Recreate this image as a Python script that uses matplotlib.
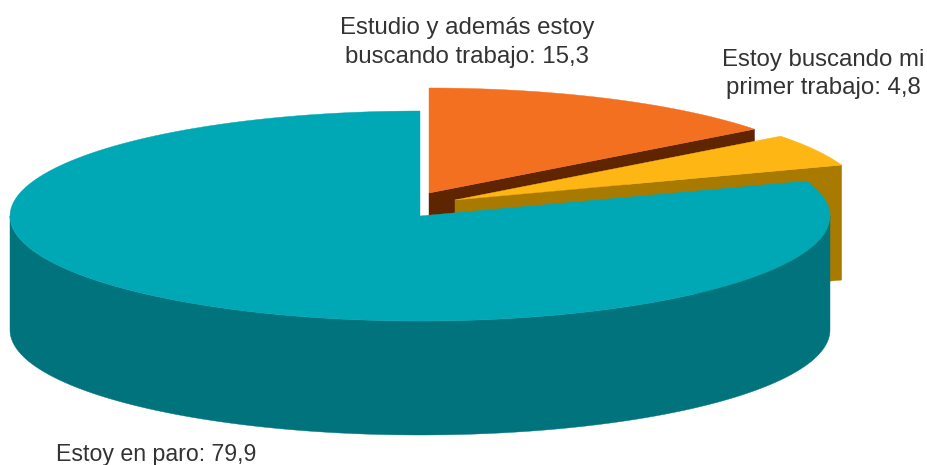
#!/bin/env python3
'''Tarta 3D: situación de búsqueda de trabajo.'''

import numpy as np
import matplotlib
matplotlib.use('Agg')
import matplotlib.pyplot as plt
from matplotlib.patches import Polygon

etiquetas = ['Estoy en paro', 'Estudio y además estoy\nbuscando trabajo', 'Estoy buscando mi\nprimer trabajo']
valores = [79.9, 15.3, 4.8]
# reparto tal como se dibuja en la figura (no es exactamente proporcional)
reparto = [80.4, 14.6, 5.0]

col_top = ['#00A8B5', '#F47021', '#FDB614']
col_side = ['#00737C', '#5F2400', '#A87B00']
centros = [(420, 216), (429, 193), (455, 200)]
prof = [114, 30, 115]
rx, ry = 410, 105

def arco(c, a0, a1, n=200):
    t = np.radians(np.linspace(a0, a1, n))
    return np.column_stack((c[0] + rx*np.cos(t), c[1] - ry*np.sin(t)))

# angulos de cada porcion, en sentido horario desde arriba
angs = {}
a = 90.0
for i in [1, 2, 0]:
    b = a - reparto[i]*3.6
    angs[i] = (a, b)
    a = b

fig = plt.figure(figsize=(9.28, 4.65), dpi=100)
ax = fig.add_axes([0, 0, 1, 1])
ax.set_xlim(0, 928)
ax.set_ylim(465, 0)
ax.axis('off')

# de atras hacia adelante: naranja, amarillo, turquesa
for i in [1, 2]:
    c = np.array(centros[i], float)
    a0, a1 = angs[i]
    d = np.array([0, prof[i]])
    borde = arco(c, a1, a1, 2)[0]
    cara = np.array([c, borde, borde + d, c + d])
    ax.add_patch(Polygon(cara, closed=True, fc=col_side[i], ec=col_side[i], lw=0.3))
    arco_t = arco(c, a0, a1)
    ax.add_patch(Polygon(np.vstack((c, arco_t)), closed=True, fc=col_top[i], ec=col_top[i], lw=0.3))

# lateral y tapa de la porcion grande
c = np.array(centros[0], float)
lado = arco(c, 180, 360)
d = np.array([0, prof[0]])
ax.add_patch(Polygon(np.vstack((lado, (lado + d)[::-1])), closed=True, fc=col_side[0], ec=col_side[0], lw=0.3))
t = arco(c, angs[0][0], angs[0][1])
ax.add_patch(Polygon(np.vstack((c, t)), closed=True, fc=col_top[0], ec=col_top[0], lw=0.3))

pos = [(156.5, 454), (467, 42.5), (823, 74)]
tam = [16.7, 17.3, 17.3]
for i in range(3):
    txt = f'{etiquetas[i]}: {valores[i]:.1f}'.replace('.', ',')
    ax.text(pos[i][0], pos[i][1], txt, ha='center', va='center', linespacing=1.4,
            family='Liberation Sans', color='#333333', fontsize=tam[i])

fig.savefig('out.png', dpi=100)
